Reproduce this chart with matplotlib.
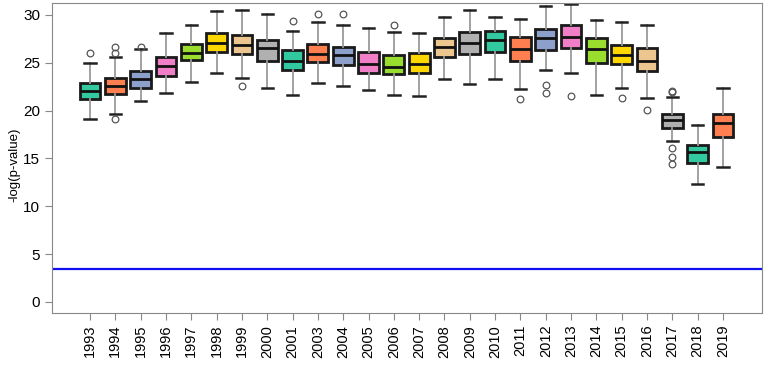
import numpy as np
import matplotlib
matplotlib.use("Agg")
import matplotlib.pyplot as plt

plt.rcParams['font.family'] = ['Liberation Sans', 'DejaVu Sans']

# Years (2002 is missing in the source)
years = [1993, 1994, 1995, 1996, 1997, 1998, 1999, 2000, 2001, 2003, 2004,
         2005, 2006, 2007, 2008, 2009, 2010, 2011, 2012, 2013, 2014, 2015,
         2016, 2017, 2018, 2019]

# Box statistics
medians = [22.1, 22.6, 23.3, 24.7, 26.0, 27.1, 26.9, 26.5, 25.2, 25.9, 25.8,
           24.9, 24.6, 24.9, 26.7, 27.1, 27.35, 26.4, 27.6, 27.7, 26.4, 25.8,
           25.2, 19.05, 15.7, 18.7]
q1 = [21.2, 21.7, 22.4, 23.6, 25.25, 26.1, 25.9, 25.2, 24.2, 25.1, 24.8,
      23.9, 23.8, 23.9, 25.6, 25.95, 26.15, 25.2, 26.3, 26.5, 25.0, 24.9,
      24.1, 18.2, 14.5, 17.2]
q3 = [22.9, 23.4, 24.1, 25.6, 27.0, 28.1, 27.9, 27.4, 26.3, 27.0, 26.7,
      26.1, 25.8, 26.05, 27.55, 28.25, 28.35, 27.7, 28.5, 28.95, 27.6, 26.9,
      26.5, 19.65, 16.4, 19.7]
whisk_lo = [19.15, 19.7, 21.0, 21.8, 22.96, 23.9, 23.4, 22.4, 21.6, 22.85,
            22.6, 22.15, 21.6, 21.5, 23.3, 22.8, 23.3, 22.3, 24.2, 23.9, 21.6,
            22.4, 21.3, 16.85, 12.35, 14.1]
whisk_hi = [25.0, 25.6, 26.4, 28.1, 28.9, 30.4, 30.5, 30.1, 28.3, 29.3, 29.0,
            28.6, 28.2, 28.1, 29.8, 30.5, 29.75, 29.6, 30.96, 31.1, 29.5, 29.3,
            28.95, 21.45, 18.5, 22.35]
outliers = [[26.05], [26.6, 26.05, 19.1], [26.7], [], [], [], [22.6], [],
            [29.4], [30.1], [30.1], [], [28.9], [], [], [], [], [21.25],
            [22.7, 21.8], [21.5], [], [21.3], [20.1],
            [22.1, 21.95, 16.05, 15.2, 14.4], [], []]

threshold = 3.42

palette = ['#33C9A0', '#FF7F50', '#8DA0CB', '#F17FC8', '#99DD2E', '#FFD700',
           '#EDC68F', '#B0B0B0']

stats = []
for i, yr in enumerate(years):
    stats.append(dict(med=medians[i], q1=q1[i], q3=q3[i],
                      whislo=whisk_lo[i], whishi=whisk_hi[i],
                      fliers=outliers[i], label=str(yr)))

fig = plt.figure(figsize=(7.67, 3.75), dpi=100)
ax = fig.add_axes([52 / 767, 1 - 313 / 375, 710 / 767, 310 / 375])

positions = np.arange(1, len(years) + 1)
bp = ax.bxp(stats, positions=positions, widths=0.82, patch_artist=True,
            boxprops=dict(edgecolor='#1a1a1a', linewidth=2),
            medianprops=dict(color='#111111', linewidth=2),
            whiskerprops=dict(color='#9a9a9a', linewidth=1.3),
            capprops=dict(color='#222222', linewidth=1.8),
            capwidths=0.45,
            flierprops=dict(marker='o', markerfacecolor='none',
                            markeredgecolor='#555555', markersize=4.8,
                            markeredgewidth=0.9))
for i, box in enumerate(bp['boxes']):
    box.set_facecolor(palette[i % len(palette)])

ax.axhline(threshold, color='#1010F0', linewidth=1.6)

ax.set_xlim(-0.5, 27.54)
ax.set_ylim(-1.15, 31.25)
ax.set_yticks([0, 5, 10, 15, 20, 25, 30])
ax.set_xticks(positions)
ax.set_xticklabels([str(y) for y in years], rotation=90, fontsize=10.5)
ax.tick_params(axis='y', labelsize=11, color='#888888', length=5)
ax.tick_params(axis='x', color='#888888', length=5)
for sp in ax.spines.values():
    sp.set_color('#888888')
ax.set_ylabel('-log(p-value)', fontsize=9.5)
ax.yaxis.set_label_coords(-0.045, 0.477)

fig.savefig('out.png', dpi=100)
